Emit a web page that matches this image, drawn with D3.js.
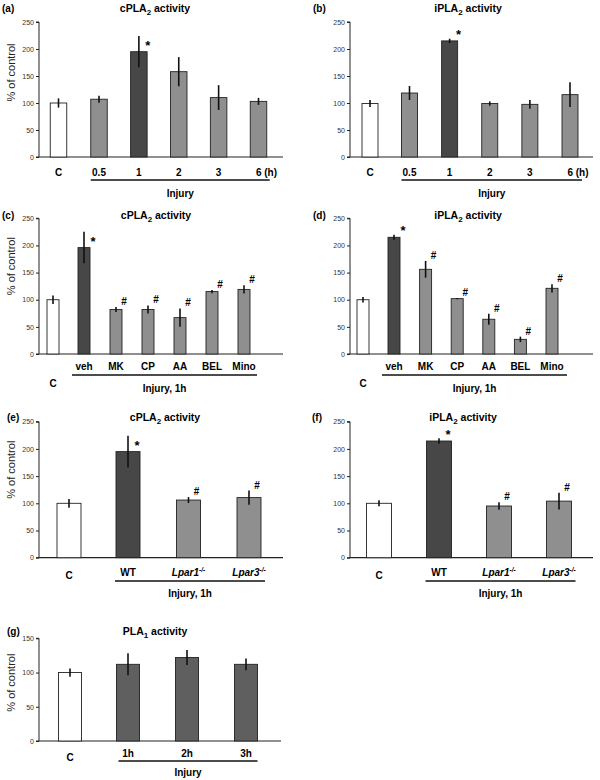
<!DOCTYPE html>
<html><head><meta charset="utf-8">
<script src="https://cdn.jsdelivr.net/npm/d3@7"></script>
<style>body{margin:0;background:#fff}svg{display:block}text{font-family:"Liberation Sans",Arial,sans-serif}</style>
</head><body><svg id="chart" width="600" height="780"></svg>
<script>
// ---------- data ----------
const timeCats = ["C","0.5","1","2","3","6"];
const aVals = [100,107,195,158,110,103];
const aErr  = [8.5,6.5,29,27,23,6.5];
const bVals = [99,118.5,215,99,97.5,115.5];
const bErr  = [6.5,13,4,4,8,23];
const timeKinds = ["ctrl","inj","peak","inj","inj","inj"];
const timeMarks = ["","","*","","",""];

const drugCats = ["C","veh","MK","CP","AA","BEL","Mino"];
const cVals = [100,196,82,82,67,115,119];
const cErr  = [8,29,4.5,7.5,17,3,7.5];
const dVals = [100,215,156,102,64,27,121];
const dErr  = [5,4.5,15.5,1,10,5,7.5];
const drugKinds = ["ctrl","peak","inj","inj","inj","inj","inj"];
const drugMarks = ["","*","#","#","#","#","#"];

const koCats = ["C","WT","Lpar1","Lpar3"];
const eVals = [100,195,106,110.5];
const eErr  = [8,29,5.5,13];
const fVals = [100,214.5,95,104];
const fErr  = [5.5,5,7,15.5];
const koKinds = ["ctrl","peak","inj","inj"];
const koMarks = ["","*","#","#"];

const gCats = ["C","1h","2h","3h"];
const gVals = [100,112,122,112];
const gErr  = [6,16,11,8.5];
const gKinds = ["ctrl","pla1","pla1","pla1"];

const ticks250 = [0,50,100,150,200,250];
const ticks150 = [0,50,100,150];

const color = d3.scaleOrdinal().domain(["ctrl","peak","inj","pla1"])
  .range(["#ffffff","#474747","#8f8f8f","#5f5f5f"]);

const svg = d3.select("#chart");

function labelText(sel, cat){
  if (cat === "Lpar1" || cat === "Lpar3"){
    sel.attr("font-style","italic");
    sel.append("tspan").text(cat);
    sel.append("tspan").attr("font-size","6.5px").attr("dy",-4).text("-/-");
  } else sel.text(cat);
}

function panel(o){
  const g = svg.append("g");
  const y = d3.scaleLinear().domain([0,o.yMax]).range([o.y0,o.yTop]);
  const inj = o.cats.slice(1);
  const xi = d3.scalePoint().domain(inj).range(o.injRange);
  const x = c => c === "C" ? xi(inj[0]) - o.ctrlGap : xi(c);
  const data = o.cats.map((c,i)=>({c, v:o.vals[i], e:o.err[i], k:o.kinds[i], m:o.marks? o.marks[i]:""}));

  // y axis
  const ax = g.append("g").attr("transform",`translate(${o.ax},0)`)
    .call(d3.axisLeft(y).tickValues(o.ticks).tickSize(3).tickPadding(2));
  ax.select(".domain").attr("stroke","#222").attr("d",`M-3,${o.y0}H0V${o.yTop}H-3`);
  ax.selectAll(".tick line").attr("stroke","#222");
  ax.selectAll(".tick text").attr("font-size","7px").attr("fill","#333")
    .style("font-family","'Liberation Sans',Arial,sans-serif");
  // x axis line
  g.append("line").attr("x1",o.ax).attr("x2",o.axEnd).attr("y1",o.y0).attr("y2",o.y0)
    .attr("stroke","#222").attr("stroke-width",1.2);

  // bars
  g.selectAll("rect.bar").data(data).join("rect").attr("class","bar")
    .attr("x",d=>x(d.c)-o.bw/2).attr("width",o.bw)
    .attr("y",d=>y(d.v)).attr("height",d=>o.y0-y(d.v))
    .attr("fill",d=>color(d.k)).attr("stroke","#222").attr("stroke-width",0.9);
  // error bars
  g.selectAll("line.err").data(data).join("line").attr("class","err")
    .attr("x1",d=>x(d.c)).attr("x2",d=>x(d.c))
    .attr("y1",d=>y(d.v+d.e)).attr("y2",d=>y(Math.max(0,d.v-d.e)))
    .attr("stroke","#111").attr("stroke-width",1.6);
  // markers: "*" beside the bar top, "#" above-right of the error bar
  g.selectAll("text.mark").data(data.filter(d=>d.m)).join("text").attr("class","mark")
    .attr("x",d=>x(d.c)+(d.m==="*"?9:8))
    .attr("y",d=>d.m==="*" ? y(d.v)-2 : y(d.v+d.e)-2)
    .attr("text-anchor","middle").attr("font-weight","bold")
    .attr("font-size",d=>d.m==="*"?"13px":"10px").text(d=>d.m);

  // category labels
  const last = o.cats[o.cats.length-1];
  g.selectAll("text.cat").data(data).join("text").attr("class","cat")
    .attr("x",d=>x(d.c)+(d.c===last && o.lastSuffix ? 8 : 0))
    .attr("y",d=>d.c==="C"? o.cY : o.labY)
    .attr("text-anchor","middle").attr("font-weight","bold").attr("font-size","10px")
    .each(function(d){ labelText(d3.select(this), d.c + ((d.c===last && o.lastSuffix)? o.lastSuffix : "")); });

  // underline + group label
  const u0 = xi(inj[0]) - o.bw/2 - o.uPadL, u1 = xi(inj[inj.length-1]) + o.bw/2 + o.uPadR;
  g.append("line").attr("x1",u0).attr("x2",u1).attr("y1",o.uY).attr("y2",o.uY)
    .attr("stroke","#111").attr("stroke-width",1.3);
  g.append("text").attr("x",(u0+u1)/2).attr("y",o.groupY).attr("text-anchor","middle")
    .attr("font-weight","bold").attr("font-size","10px").text(o.group);

  // title
  const t = g.append("text").attr("x",o.titleX).attr("y",o.titleY).attr("text-anchor","middle")
    .attr("font-weight","bold").attr("font-size","10.5px");
  t.append("tspan").text(o.title[0]);
  t.append("tspan").attr("font-size","8px").attr("dy",2.5).text(o.title[1]);
  t.append("tspan").attr("dy",-2.5).text(o.title[2]);
  g.append("text").attr("x",o.letterX).attr("y",o.titleY).attr("font-weight","bold")
    .attr("font-size","10px").text(o.letter);

  if (o.yTitle){
    g.append("text").attr("transform",`translate(${o.ax-24},${(o.y0+o.yTop)/2-o.yTitleUp}) rotate(-90)`)
      .attr("text-anchor","middle").attr("font-size","11px").attr("fill","#222").text("% of control");
  }
}

const common = {yMax:250, ticks:ticks250};
// (a)
panel({...common, letter:"(a)", letterX:2, title:["cPLA","2"," activity"], titleX:155, titleY:12,
  cats:timeCats, vals:aVals, err:aErr, kinds:timeKinds, marks:timeMarks,
  ax:39, axEnd:283, y0:157, yTop:22, injRange:[99,258.5], ctrlGap:40.5, bw:16.5,
  labY:175.5, cY:175.5, lastSuffix:" (h)", uY:180, uPadL:0, uPadR:3, groupY:196.5, group:"Injury", yTitle:true, yTitleUp:17});
// (b)
panel({...common, letter:"(b)", letterX:313, title:["iPLA","2"," activity"], titleX:468, titleY:12,
  cats:timeCats, vals:bVals, err:bErr, kinds:timeKinds, marks:timeMarks,
  ax:350, axEnd:593, y0:157, yTop:22, injRange:[409.5,570], ctrlGap:39.5, bw:16,
  labY:175.5, cY:175.5, lastSuffix:" (h)", uY:180, uPadL:0, uPadR:4, groupY:196.5, group:"Injury", yTitle:false});
// (c)
panel({...common, letter:"(c)", letterX:2, title:["cPLA","2"," activity"], titleX:156, titleY:219,
  cats:drugCats, vals:cVals, err:cErr, kinds:drugKinds, marks:drugMarks,
  ax:39, axEnd:283, y0:354, yTop:218.3, injRange:[84,244], ctrlGap:31, bw:12,
  labY:369.5, cY:386.5, uY:375, uPadL:6, uPadR:7, groupY:391.5, group:"Injury, 1h", yTitle:true, yTitleUp:20});
// (d)
panel({...common, letter:"(d)", letterX:313, title:["iPLA","2"," activity"], titleX:468, titleY:219,
  cats:drugCats, vals:dVals, err:dErr, kinds:drugKinds, marks:drugMarks,
  ax:350, axEnd:593, y0:354, yTop:218.3, injRange:[394,552], ctrlGap:31, bw:12,
  labY:369.5, cY:386.5, uY:375, uPadL:6, uPadR:9, groupY:391.5, group:"Injury, 1h", yTitle:false});
// (e)
panel({...common, letter:"(e)", letterX:7, title:["cPLA","2"," activity"], titleX:165, titleY:421,
  cats:koCats, vals:eVals, err:eErr, kinds:koKinds, marks:koMarks,
  ax:39, axEnd:283, y0:557.7, yTop:421.7, injRange:[128,249], ctrlGap:59, bw:24,
  labY:575.5, cY:578.5, uY:581, uPadL:1, uPadR:4, groupY:596.5, group:"Injury, 1h", yTitle:true, yTitleUp:20});
// (f)
panel({...common, letter:"(f)", letterX:312, title:["iPLA","2"," activity"], titleX:463, titleY:421,
  cats:koCats, vals:fVals, err:fErr, kinds:koKinds, marks:koMarks,
  ax:350, axEnd:593, y0:557.7, yTop:421.7, injRange:[439,559], ctrlGap:60, bw:25,
  labY:575.5, cY:578.5, uY:581, uPadL:1, uPadR:4, groupY:596.5, group:"Injury, 1h", yTitle:false});
// (g)
panel({yMax:150, ticks:ticks150, letter:"(g)", letterX:7, title:["PLA","1"," activity"], titleX:155, titleY:635,
  cats:gCats, vals:gVals, err:gErr, kinds:gKinds, marks:null,
  ax:39, axEnd:281, y0:741, yTop:638.3, injRange:[128,246], ctrlGap:58, bw:23,
  labY:756.5, cY:760.5, uY:761, uPadL:-2, uPadR:0, groupY:775.5, group:"Injury", yTitle:true, yTitleUp:7});
</script></body></html>
